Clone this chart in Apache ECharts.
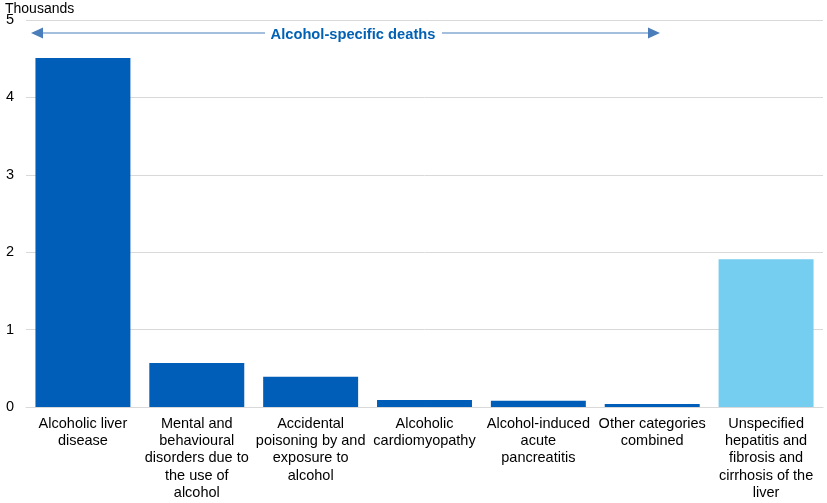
<!DOCTYPE html>
<html>
<head>
<meta charset="utf-8">
<script src="https://cdn.jsdelivr.net/npm/echarts@6/dist/echarts.min.js"></script>
<style>
  html, body { margin: 0; padding: 0; background: #fff; }
  #chart { width: 827px; height: 503px; }
</style>
</head>
<body>
<div id="chart"></div>
<script>
// categories (wrapped as in the source)
const categories = [
  'Alcoholic liver\ndisease',
  'Mental and\nbehavioural\ndisorders due to\nthe use of\nalcohol',
  'Accidental\npoisoning by and\nexposure to\nalcohol',
  'Alcoholic\ncardiomyopathy',
  'Alcohol-induced\nacute\npancreatitis',
  'Other categories\ncombined',
  'Unspecified\nhepatitis and\nfibrosis and\ncirrhosis of the\nliver'
];
// deaths, thousands
const deaths = [4.51, 0.57, 0.39, 0.09, 0.08, 0.04, 1.91];
// the last one is not alcohol-specific
const alcoholSpecific = [true, true, true, true, true, true, false];

const darkBlue = '#005EB8';
const lightBlue = '#75CDEF';
const arrowCol = '#4A7EBB';

const chart = echarts.init(document.getElementById('chart'));

const option = {
  animation: false,
  textStyle: { fontFamily: 'Liberation Sans, Arial, sans-serif' },
  grid: { left: 26, right: 4, top: 20, bottom: 96 },
  xAxis: {
    type: 'category',
    data: categories,
    axisLine: { lineStyle: { color: '#d9d9d9' } },
    axisTick: { show: false },
    axisLabel: {
      interval: 0,
      color: '#000',
      fontSize: 14.5,
      lineHeight: 17.3,
      margin: 8
    }
  },
  yAxis: {
    type: 'value',
    min: 0, max: 5, interval: 1,
    axisLine: { show: false },
    axisTick: { show: false },
    splitLine: { lineStyle: { color: '#d9d9d9' } },
    axisLabel: { color: '#000', fontSize: 14.5, margin: 12 }
  },
  series: [{
    type: 'bar',
    barCategoryGap: '16.6%',
    data: deaths.map((v, i) => ({
      value: v,
      itemStyle: { color: alcoholSpecific[i] ? darkBlue : lightBlue }
    }))
  }],
  graphic: [
    { type: 'text', left: 5, top: 2,
      style: { text: 'Thousands', fontSize: 14, fill: '#000', fontFamily: 'Liberation Sans, Arial, sans-serif' } },
    // annotation arrow
    { type: 'line', shape: { x1: 42, y1: 33, x2: 265, y2: 33 }, style: { stroke: arrowCol, lineWidth: 1.2 } },
    { type: 'polygon', shape: { points: [[31, 33], [43, 27.5], [43, 38.5]] }, style: { fill: arrowCol } },
    { type: 'line', shape: { x1: 442, y1: 33, x2: 649, y2: 33 }, style: { stroke: arrowCol, lineWidth: 1.2 } },
    { type: 'polygon', shape: { points: [[660, 33], [648, 27.5], [648, 38.5]] }, style: { fill: arrowCol } },
    { type: 'text', x: 353, y: 35,
      style: { text: 'Alcohol-specific deaths', fontSize: 14.7, fontWeight: 'bold', fill: '#0061B5',
               align: 'center', verticalAlign: 'middle', fontFamily: 'Liberation Sans, Arial, sans-serif' } }
  ]
};

chart.setOption(option);
</script>
</body>
</html>
